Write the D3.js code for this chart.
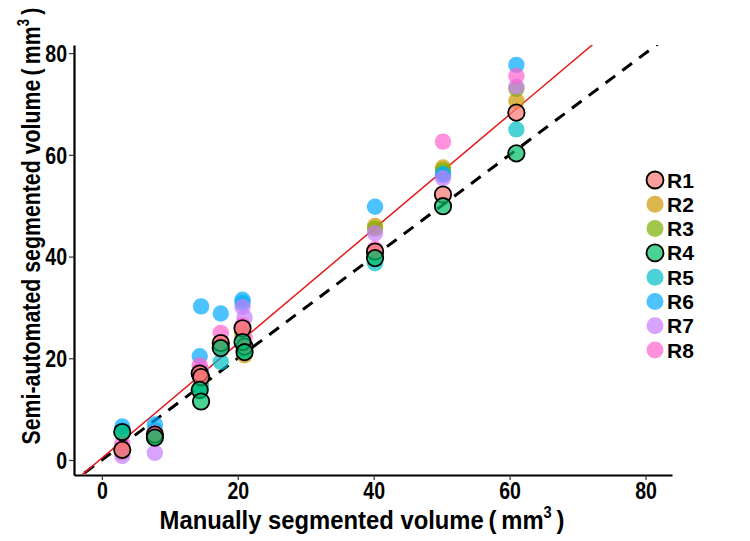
<!DOCTYPE html>
<html><head><meta charset="utf-8">
<script src="https://cdn.jsdelivr.net/npm/d3@7"></script>
<style>body{margin:0;background:#fff}svg{display:block}text{font-family:"Liberation Sans",Arial,sans-serif;font-weight:bold}</style>
</head><body><svg id="c" width="750" height="541"></svg>
<script>
const readers = ["R1","R2","R3","R4","R5","R6","R7","R8"];
const colors = ["#F8766D","#CD9600","#7CAE00","#00BE67","#00BFC4","#00A9FF","#C77CFF","#FF61CC"];
const outlined = ["R1","R4"];
const manual = [3.0, 7.8, 14.4, 14.6, 17.5, 20.7, 21.0, 40.2, 50.2, 61.0];
const R1 = [2.0, 5.0, 17.0, 16.3, 23.0, 25.9, 22.3, 41.0, 52.2, 68.3];
const R2 = [1.5, 4.8, 17.5, 15.5, 22.5, 25.0, 20.6, 46.0, 57.5, 70.6];
const R3 = [1.8, 4.6, 17.2, 16.0, 22.3, 24.5, 22.0, 45.5, 57.0, 73.0];
const R4 = [5.5, 4.4, 13.8, 11.5, 22.0, 23.2, 21.2, 39.7, 49.9, 60.3];
const R5 = [5.8, 5.8, 13.5, 14.5, 19.3, 30.9, 21.5, 38.7, 56.3, 65.0];
const R6 = [6.6, 7.0, 20.4, 30.2, 28.8, 31.5, 22.5, 49.8, 56.0, 77.7];
const R7 = [0.8, 1.4, 16.5, 17.8, 22.2, 30.1, 28.0, 44.6, 55.4, 73.4];
const R8 = [3.2, 5.3, 18.6, 16.8, 25.0, 26.5, 24.0, 41.5, 62.6, 75.5];
const series = [R1,R2,R3,R4,R5,R6,R7,R8];
const xTicks = [0,20,40,60,80];
const yTicks = [0,20,40,60,80];
const fitIntercept = 0.37, fitSlope = 1.126;

const svg = d3.select("#c");
const L=74, R=672, T=45, B=475;
const x = d3.scaleLinear().domain([-4.1,83.9]).range([L,R]);
const y = d3.scaleLinear().domain([-2.95,81.6]).range([B,T]);
const SX = 0.85;

svg.append("clipPath").attr("id","clip").append("rect").attr("x",L).attr("y",T).attr("width",R-L).attr("height",B-T);

const xa = svg.append("g").attr("transform",`translate(0,${B})`).call(d3.axisBottom(x).tickValues(xTicks).tickSize(5).tickSizeOuter(0).tickPadding(6));
const ya = svg.append("g").attr("transform",`translate(${L},0)`).call(d3.axisLeft(y).tickValues(yTicks).tickSize(5).tickSizeOuter(0).tickPadding(2));
[xa,ya].forEach(a=>{a.select(".domain").attr("stroke","#000").attr("stroke-width",2.2);
 a.selectAll(".tick line").attr("stroke","#333").attr("stroke-width",1.2);
 a.selectAll(".tick text").attr("fill","#000").style("font-size","23px").attr("transform",`scale(${SX},1)`);});
ya.selectAll(".tick text").attr("x",-7/SX).attr("dy","0.36em");
xa.selectAll(".tick text").attr("y",8);

const plot = svg.append("g").attr("clip-path","url(#clip)");
const data = [];
readers.forEach((r,i)=>series[i].forEach((v,j)=>data.push({r,i,x:manual[j],y:v})));
const plain = data.filter(d=>!outlined.includes(d.r));
const circ = data.filter(d=>outlined.includes(d.r));
svg.append("g").selectAll("circle").data(plain).join("circle")
 .attr("cx",d=>x(d.x)).attr("cy",d=>y(d.y)).attr("r",8.2)
 .attr("fill",d=>colors[d.i]).attr("fill-opacity",0.7);
svg.append("g").selectAll("circle").data(circ).join("circle")
 .attr("cx",d=>x(d.x)).attr("cy",d=>y(d.y)).attr("r",8.2)
 .attr("fill",d=>colors[d.i]).attr("fill-opacity",0.7).attr("stroke","#000").attr("stroke-width",1.8);

plot.append("line").attr("x1",x(-10)).attr("y1",y(-10)).attr("x2",x(100)).attr("y2",y(100))
 .attr("stroke","#000").attr("stroke-width",3).attr("stroke-dasharray","12,9");
plot.append("line").attr("x1",x(-10)).attr("y1",y(fitIntercept+fitSlope*-10)).attr("x2",x(100)).attr("y2",y(fitIntercept+fitSlope*100))
 .attr("stroke","#e41a1c").attr("stroke-width",1.5);

function title(label, pre, target, sz){
 const t = svg.append("text").attr("text-anchor","middle").style("font-size",sz+"px").attr("fill","#000");
 t.append("tspan").text(label+"\u2009(\u2009mm");
 t.append("tspan").text("3").attr("dy",-11).style("font-size","16px");
 t.append("tspan").text("\u2009)").attr("dy",11);
 const w = t.node().getComputedTextLength();
 t.attr("transform", pre+` scale(${target/w},1)`);
 return t;
}
title("Manually segmented volume","translate(362,529)",405,26);
title("Semi-automated segmented volume","translate(40,226) rotate(-90)",437,26);

const lg = svg.append("g").attr("transform","translate(655,180)");
readers.forEach((r,i)=>{
 const g = lg.append("g").attr("transform",`translate(0,${i*24.3})`);
 g.append("circle").attr("r",8.5).attr("fill",colors[i]).attr("fill-opacity",0.7)
  .attr("stroke",outlined.includes(r)?"#000":"none").attr("stroke-width",1.8);
 g.append("text").attr("transform","translate(12,7.5)").text(r).style("font-size","21px").attr("fill","#000");
});
</script></body></html>
